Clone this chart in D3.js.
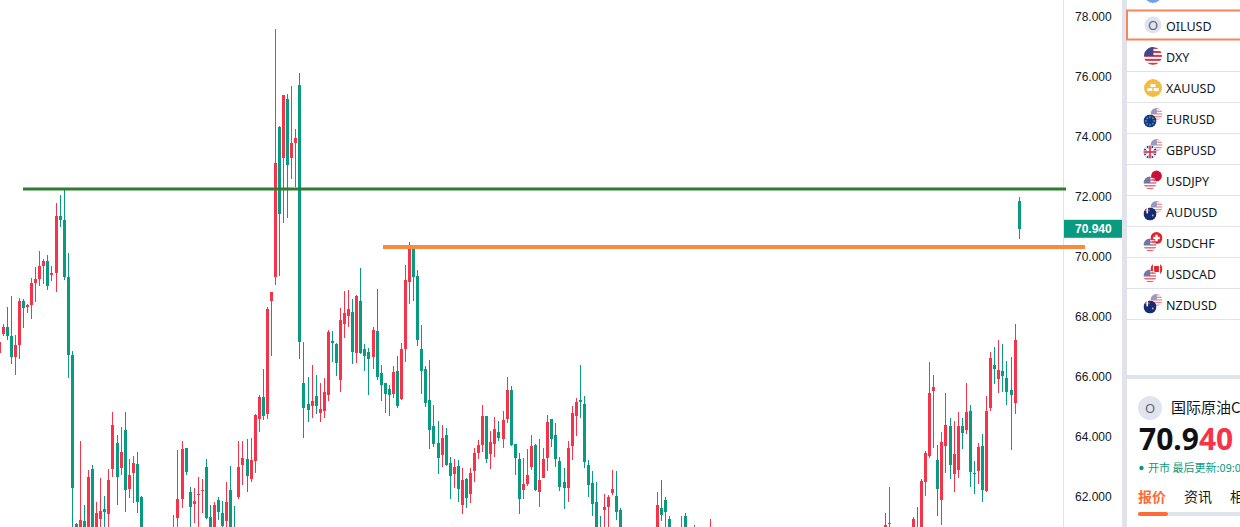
<!DOCTYPE html>
<html lang="en">
<head>
  <meta charset="UTF-8" />
  <title>OILUSD</title>
  <script src="https://d3js.org/d3.v7.min.js"></script>
  <style>
    html, body { margin: 0; padding: 0; background: #fff; overflow: hidden; }
    svg { display: block; }
    .axis text { font-family: "Liberation Sans", sans-serif; font-size: 12px; fill: #131722; }
    .sym { font-family: "Noto Sans", sans-serif; font-size: 12.5px; fill: #131722; }
    .cjk { font-family: "Noto Sans CJK SC", sans-serif; }
  </style>
</head>
<body>
  <svg width="1240" height="527"></svg>

  <script>
    // Slot of each visible candle on the time axis (the rest sit below the frame)
    const slots = [
      ...d3.range(0, 36), ...d3.range(43, 154),
      162, 163, 164, 165, 168, 169, 171, 175, 218, 219, 225, 226,
      ...d3.range(227, 252)
    ];

    const highs = [
      67.17,67.77,68.34,68.70,67.40,68.63,68.60,68.43,69.30,69.67,
      70.20,69.93,70.07,69.70,71.80,72.07,72.30,70.13,66.87,61.13,
      63.87,61.73,62.90,63.07,61.83,62.63,62.03,62.93,64.83,64.07,
      64.33,64.83,63.27,63.37,63.50,62.03,
      61.40,63.57,63.87,63.63,62.33,62.30,62.67,
      62.60,63.27,61.73,61.83,62.00,61.87,62.50,63.03,61.70,63.87,
      63.87,63.93,63.97,64.77,65.40,66.27,68.34,68.83,77.60,74.37,
      75.40,75.43,75.70,74.27,76.13,67.17,66.00,66.40,66.07,65.80,
      65.97,67.57,67.53,67.13,68.30,68.87,68.90,68.60,68.73,69.63,
      67.10,66.97,67.67,68.93,66.40,65.80,65.73,66.37,66.70,67.13,
      69.73,70.50,70.37,69.57,67.73,66.37,66.57,65.07,64.53,64.40,
      64.30,63.33,63.27,63.23,62.97,62.63,62.97,63.63,63.90,65.07,
      64.70,64.20,64.67,64.53,64.87,66.00,65.70,63.77,63.47,63.30,
      63.60,64.07,63.77,63.93,63.63,64.73,64.60,64.47,63.33,62.97,
      63.87,65.03,65.30,66.40,65.37,63.23,62.87,62.50,61.37,62.10,
      62.07,62.90,62.87,61.63,
      62.17,62.57,62.00,61.37,
      61.37,61.47,61.07,61.27,
      61.47,62.33,61.33,61.67,
      62.60,63.53,66.50,
      66.07,63.73,64.17,65.47,64.63,64.53,64.83,64.63,65.80,65.07,
      63.20,63.80,64.10,65.37,66.83,67.00,67.23,67.10,66.53,66.67,
      67.77,72.00
    ];

    const bodyTops = [
      67.17,67.67,67.67,67.37,67.07,68.53,68.53,68.40,69.13,69.27,
      69.70,69.87,69.87,69.47,71.37,71.37,71.23,69.33,66.73,61.10,
      61.23,61.20,62.67,62.93,61.47,61.53,61.60,62.57,64.40,63.80,
      63.50,64.23,62.73,63.13,63.10,62.00,
      60.90,61.93,63.60,63.63,62.17,61.87,62.10,
      62.23,63.00,61.33,61.73,61.90,61.47,61.83,62.23,60.90,63.00,
      63.30,63.27,63.23,64.73,65.33,65.33,68.27,68.83,73.13,74.33,
      75.40,75.27,73.80,73.97,75.73,65.80,65.10,65.20,65.37,64.93,
      65.50,67.50,67.20,67.10,67.90,68.13,68.27,68.17,68.70,68.53,
      66.93,66.83,67.57,67.53,66.13,65.80,65.60,66.17,66.20,66.93,
      69.23,70.30,70.30,69.37,66.93,66.27,65.23,64.37,63.80,63.97,
      64.07,63.13,63.00,63.03,62.57,62.60,62.80,63.47,63.73,64.70,
      64.70,63.83,64.27,64.17,64.57,65.57,65.57,63.77,63.27,62.43,
      62.73,63.70,63.73,62.57,63.27,64.50,64.60,64.07,63.20,62.50,
      63.63,64.80,65.17,65.23,65.10,63.07,62.47,61.83,60.90,61.67,
      62.00,62.27,62.03,61.57,
      61.73,61.63,61.90,61.27,
      60.90,61.37,60.80,60.80,
      61.07,61.13,61.27,60.90,
      62.53,63.47,65.47,
      65.67,63.23,63.83,64.40,64.37,63.43,64.37,64.37,64.83,64.87,
      62.80,63.67,63.70,64.87,66.63,66.40,66.23,66.20,65.97,65.57,
      67.23,71.87
    ];

    const bodyBottoms = [
      66.80,67.44,67.37,66.67,66.67,67.07,68.30,68.33,68.40,69.13,
      69.27,69.70,69.03,69.40,69.47,71.23,69.33,66.73,62.30,60.50,
      60.50,60.60,60.60,60.70,60.90,61.27,61.50,61.43,62.93,62.67,
      62.97,62.23,62.27,62.80,61.83,60.50,
      60.40,61.30,61.93,62.83,61.67,61.77,62.07,
      62.20,61.30,60.70,60.80,61.50,61.03,61.20,60.80,60.50,62.00,
      63.07,62.70,62.60,63.20,64.60,64.70,64.77,68.53,69.33,71.43,
      73.30,73.07,73.30,73.80,67.17,64.97,64.90,65.03,65.03,64.80,
      64.87,65.40,67.13,66.47,65.90,67.77,68.03,66.83,66.80,66.80,
      66.70,66.60,66.67,66.00,65.73,65.43,65.40,65.43,65.03,65.27,
      66.93,69.17,69.33,67.23,66.20,65.13,64.23,63.77,63.30,63.40,
      63.07,62.70,62.77,62.27,61.73,61.97,62.10,62.87,63.47,63.73,
      63.27,63.43,63.77,63.97,63.93,64.60,63.73,63.30,61.93,62.23,
      62.43,63.00,62.23,62.17,62.63,63.30,63.93,63.27,62.33,62.30,
      62.30,63.70,64.70,65.17,63.17,62.40,61.77,60.80,60.60,61.57,
      61.67,62.13,61.50,60.80,
      60.90,61.40,61.50,60.80,
      60.60,60.80,60.50,60.50,
      60.70,61.10,60.80,60.60,
      60.90,62.50,63.37,
      65.53,62.27,61.90,63.70,63.07,62.77,62.90,64.13,64.23,62.83,
      62.77,62.87,62.23,62.20,64.97,66.27,65.93,66.03,65.50,65.40,
      65.13,70.94
    ];

    const lows = [
      66.80,67.37,67.24,66.44,66.07,66.60,67.63,68.13,67.93,68.50,
      69.03,69.10,68.90,69.20,68.83,71.00,69.23,65.97,61.00,60.30,
      60.20,60.30,60.40,60.40,60.50,60.70,60.80,60.90,62.67,61.73,
      62.73,61.50,61.97,61.80,61.47,60.30,
      60.20,60.80,61.63,62.73,60.90,61.13,60.90,
      61.47,61.27,60.50,60.60,61.23,60.90,60.90,60.50,60.30,61.93,
      62.40,62.17,62.50,62.80,64.17,64.57,64.60,66.70,69.07,69.37,
      71.13,71.30,72.60,72.33,66.60,63.97,64.50,64.63,64.77,64.50,
      64.63,65.20,66.50,66.03,65.50,67.30,67.67,66.43,66.47,66.77,
      66.20,65.40,66.27,65.90,65.20,64.80,64.70,65.30,64.97,65.23,
      66.50,68.43,68.53,67.03,65.43,65.00,63.60,63.67,62.77,63.00,
      63.03,61.93,62.30,61.83,61.43,61.63,61.80,62.50,63.27,63.50,
      63.13,62.93,63.33,63.87,63.63,64.47,63.70,62.73,61.43,61.93,
      62.37,62.90,62.20,61.67,62.63,62.87,63.67,63.00,62.20,61.60,
      61.83,63.23,64.03,64.63,62.97,62.00,61.37,60.50,60.40,60.90,
      60.90,62.07,61.23,60.60,
      60.60,61.20,60.90,60.60,
      60.40,60.50,60.30,60.30,
      60.50,60.70,60.60,60.40,
      60.60,62.03,63.30,
      63.63,61.37,61.07,62.80,62.60,62.17,62.63,63.60,64.10,62.33,
      62.10,62.43,61.83,62.17,64.87,65.77,65.47,65.50,65.07,63.57,
      64.77,70.60
    ];

    // u = close above open (red on this chart), d = close below open (green)
    const directions = [
      "uudduuduuu", "uuduuddddd", "ududuuduud", "uduudd",
      "uuudduu",
      "uddudduddu", "uduuuduuud", "uduudddudu", "uudduuudud", "ddudddd" + "udu",
      "uu" + "ddddddd" + "u", "ddududuuuu", "duuduudddu", "uuduuudddd", "uuuddddddu",
      "uudd", "uddd", "uddu", "uuud", "uuu",
      "uduuduudud", "duduududdd", "ud"
    ].join("");

    const priceTicks = [62, 64, 66, 68, 70, 72, 74, 76, 78];
    const lastPrice = 70.94;
    const supportPrice = 70.33;
    const resistancePrice = 72.27;

    const symbols = ["OILUSD", "DXY", "XAUUSD", "EURUSD", "GBPUSD", "USDJPY", "AUDUSD", "USDCHF", "USDCAD", "NZDUSD"];
    const flagBack = [null, null, null, "us", "us", "jp", "us", "ch", "ca", "us"];
    const flagFront = ["oil", "us", "xau", "eu", "gb", "us", "au", "us", "us", "au"];

    const red = "#f7334a";
    const green = "#089b80";
    const borderGrey = "#e0e3eb";

    const svg = d3.select("svg");

    const bars = slots.map((slot, i) => ({
      slot,
      high: highs[i],
      top: bodyTops[i],
      bottom: bodyBottoms[i],
      low: lows[i],
      up: directions[i] === "u"
    }));

    // Scales
    const xScale = d3.scaleLinear().domain([0, 251]).range([-0.83, 1019.134]);
    const yScale = d3.scaleLinear().domain([62, 78]).range([497, 17]);
    const px = v => Math.round(yScale(v));

    // Candles
    const candle = svg.append("g")
      .attr("shape-rendering", "crispEdges")
      .selectAll("g")
      .data(bars)
      .join("g")
      .attr("fill", d => d.up ? red : green);

    candle.append("rect")
      .attr("x", d => Math.floor(xScale(d.slot)))
      .attr("y", d => px(d.high))
      .attr("width", 1)
      .attr("height", d => px(d.low) - px(d.high));

    candle.append("rect")
      .attr("x", d => Math.floor(xScale(d.slot)) - 1)
      .attr("y", d => px(d.top))
      .attr("width", 3)
      .attr("height", d => Math.max(1, px(d.bottom) - px(d.top)));

    // Price axis
    svg.append("line")
      .attr("x1", 1063.5).attr("x2", 1063.5)
      .attr("y1", 0).attr("y2", 527)
      .attr("stroke", borderGrey);

    const yAxis = d3.axisRight(yScale)
      .tickValues(priceTicks)
      .tickSize(0)
      .tickPadding(11)
      .tickFormat(d3.format(".3f"));

    svg.append("g")
      .attr("class", "axis")
      .attr("transform", "translate(1064,0)")
      .call(yAxis)
      .call(g => g.select(".domain").remove());

    // Drawn lines
    svg.append("line")
      .attr("x1", 23).attr("x2", 1066)
      .attr("y1", yScale(resistancePrice)).attr("y2", yScale(resistancePrice))
      .attr("stroke", "#2e7d32").attr("stroke-width", 3);

    svg.append("line")
      .attr("x1", 383).attr("x2", 1085)
      .attr("y1", yScale(supportPrice)).attr("y2", yScale(supportPrice))
      .attr("stroke", "#fb8a3c").attr("stroke-width", 4);

    // Last price tag
    svg.append("rect")
      .attr("x", 1064).attr("y", yScale(lastPrice) - 9)
      .attr("width", 58).attr("height", 18)
      .attr("fill", green);

    svg.append("text")
      .attr("x", 1075).attr("y", yScale(lastPrice))
      .attr("dy", "0.35em")
      .attr("fill", "#fff")
      .attr("font-family", "Liberation Sans, sans-serif")
      .attr("font-size", 12)
      .attr("font-weight", "bold")
      .text(d3.format(".3f")(lastPrice));

    // Side panel
    const side = svg.append("g");

    side.append("rect").attr("x", 1122).attr("y", 0).attr("width", 5).attr("height", 527).attr("fill", borderGrey);
    side.append("rect").attr("x", 1127).attr("y", 375).attr("width", 113).attr("height", 4).attr("fill", borderGrey);

    const defs = svg.append("defs");
    let clipId = 0;

    function flag(cx, cy, r, kind, opacity) {
      const id = "c" + (clipId++);
      defs.append("clipPath").attr("id", id)
        .append("circle").attr("cx", cx).attr("cy", cy).attr("r", r);
      const g = side.append("g").attr("clip-path", `url(#${id})`).attr("opacity", opacity);
      const box = (x, y, w, h, fill) => g.append("rect")
        .attr("x", cx + x * r).attr("y", cy + y * r)
        .attr("width", w * r).attr("height", h * r).attr("fill", fill);

      if (kind === "us") {
        box(-1, -1, 2, 2, "#fff");
        d3.range(-1, 1, 0.44).forEach(s => box(-1, s, 2, 0.22, "#d8344a"));
        box(-1, -1, 1.05, 1, "#3c4a8c");
      } else if (kind === "eu") {
        box(-1, -1, 2, 2, "#0b3a8f");
        d3.range(0, 360, 45).forEach(a => g.append("circle")
          .attr("cx", cx + Math.cos(a * Math.PI / 180) * r * 0.62)
          .attr("cy", cy + Math.sin(a * Math.PI / 180) * r * 0.62)
          .attr("r", 0.7).attr("fill", "#f5c842"));
      } else if (kind === "gb") {
        box(-1, -1, 2, 2, "#21307a");
        g.append("path")
          .attr("d", `M${cx - r},${cy - r}L${cx + r},${cy + r}M${cx + r},${cy - r}L${cx - r},${cy + r}`)
          .attr("stroke", "#fff").attr("stroke-width", 2);
        box(-1, -0.25, 2, 0.5, "#fff");
        box(-0.25, -1, 0.5, 2, "#fff");
        box(-1, -0.13, 2, 0.26, "#d8344a");
        box(-0.13, -1, 0.26, 2, "#d8344a");
      } else if (kind === "au") {
        box(-1, -1, 2, 2, "#142c74");
        box(-0.9, -0.7, 0.9, 0.25, "#d8344a");
        box(-0.55, -1, 0.25, 0.9, "#fff");
        box(0.3, 0.1, 0.25, 0.25, "#e9a0a8");
      } else if (kind === "jp") {
        box(-1, -1, 2, 2, "#fff");
        g.append("circle").attr("cx", cx).attr("cy", cy).attr("r", r * 0.9).attr("fill", "#c8103a");
      } else if (kind === "ch") {
        box(-1, -1, 2, 2, "#e0242c");
        box(-0.2, -0.55, 0.4, 1.1, "#fff");
        box(-0.55, -0.2, 1.1, 0.4, "#fff");
      } else if (kind === "ca") {
        box(-1, -1, 2, 2, "#fff");
        box(-1, -1, 0.4, 2, "#e0242c");
        box(0.6, -1, 0.4, 2, "#e0242c");
        box(-0.4, -0.5, 0.8, 1, "#e0242c");
      }
    }

    function initialBadge(cx, cy, r, size) {
      side.append("circle").attr("cx", cx).attr("cy", cy).attr("r", r).attr("fill", "#e1e4ee");
      side.append("text")
        .attr("x", cx).attr("y", cy).attr("dy", "0.36em")
        .attr("text-anchor", "middle")
        .attr("fill", "#5f6472")
        .attr("font-family", "Noto Sans, sans-serif")
        .attr("font-size", size)
        .text("O");
    }

    // Row cut off at the top of the frame
    side.append("circle").attr("cx", 1153).attr("cy", -6).attr("r", 9).attr("fill", "#6f9ff0");

    symbols.forEach((name, i) => {
      const cy = 26 + i * 31;
      if (i > 0) {
        side.append("line")
          .attr("x1", 1127).attr("x2", 1240)
          .attr("y1", cy + 14.5).attr("y2", cy + 14.5)
          .attr("stroke", borderGrey);
      }
      const back = flagBack[i];
      const front = flagFront[i];
      if (front === "oil") {
        initialBadge(1153, cy - 1, 8.5, 13);
      } else if (front === "xau") {
        side.append("circle").attr("cx", 1153).attr("cy", cy).attr("r", 9).attr("fill", "#f2bd42");
        [[-3.2, 1.6], [0, -2.4], [3.2, 1.6]].forEach(p => side.append("rect")
          .attr("x", 1153 + p[0] - 2.5).attr("y", cy + p[1] - 1.5)
          .attr("width", 5).attr("height", 3).attr("fill", "#fff"));
      } else if (back) {
        const faded = back === "us" ? 0.55 : 1;
        flag(1156.5, cy - 5, 6, back, faded);
        flag(1150, cy + 2, 6.5, front, front === "us" ? 0.75 : 1);
      } else {
        flag(1153, cy - 1, 9, front, 1);
      }
      side.append("text")
        .attr("class", "sym")
        .attr("x", 1166).attr("y", cy).attr("dy", "0.36em")
        .text(name);
    });

    side.append("rect")
      .attr("x", 1127).attr("y", 10.5)
      .attr("width", 120).attr("height", 29)
      .attr("fill", "none")
      .attr("stroke", "#f6845c")
      .attr("stroke-width", 2);

    // Quote card
    initialBadge(1150, 408, 12, 13);

    side.append("text")
      .attr("class", "sym cjk")
      .attr("x", 1171).attr("y", 408).attr("dy", "0.36em")
      .style("font-size", "15px")
      .text("国际原油C");

    const quote = side.append("text")
      .attr("x", 1139).attr("y", 450)
      .attr("font-family", "Noto Sans, sans-serif")
      .attr("font-size", 30)
      .attr("font-weight", "bold");
    quote.append("tspan").attr("fill", "#111").text("70.9");
    quote.append("tspan").attr("fill", red).text("40");

    side.append("circle").attr("cx", 1141.5).attr("cy", 468).attr("r", 2.2).attr("fill", green);

    side.append("text")
      .attr("class", "cjk")
      .attr("x", 1148).attr("y", 468).attr("dy", "0.36em")
      .attr("fill", green)
      .attr("font-size", 11)
      .text("开市 最后更新:09:0");

    side.append("text")
      .attr("class", "cjk")
      .attr("x", 1138).attr("y", 497).attr("dy", "0.36em")
      .attr("fill", "#ff6b35")
      .attr("font-size", 14)
      .attr("font-weight", "bold")
      .text("报价");

    side.append("text")
      .attr("class", "cjk")
      .attr("x", 1184).attr("y", 497).attr("dy", "0.36em")
      .attr("fill", "#131722")
      .attr("font-size", 14)
      .text("资讯");

    side.append("text")
      .attr("class", "cjk")
      .attr("x", 1230).attr("y", 497).attr("dy", "0.36em")
      .attr("fill", "#131722")
      .attr("font-size", 14)
      .text("相");

    side.append("rect")
      .attr("x", 1138).attr("y", 512).attr("width", 102).attr("height", 4)
      .attr("fill", borderGrey);
    side.append("rect")
      .attr("x", 1138).attr("y", 512).attr("width", 30).attr("height", 4)
      .attr("rx", 2)
      .attr("fill", "#ff6b35");
  </script>
</body>
</html>
